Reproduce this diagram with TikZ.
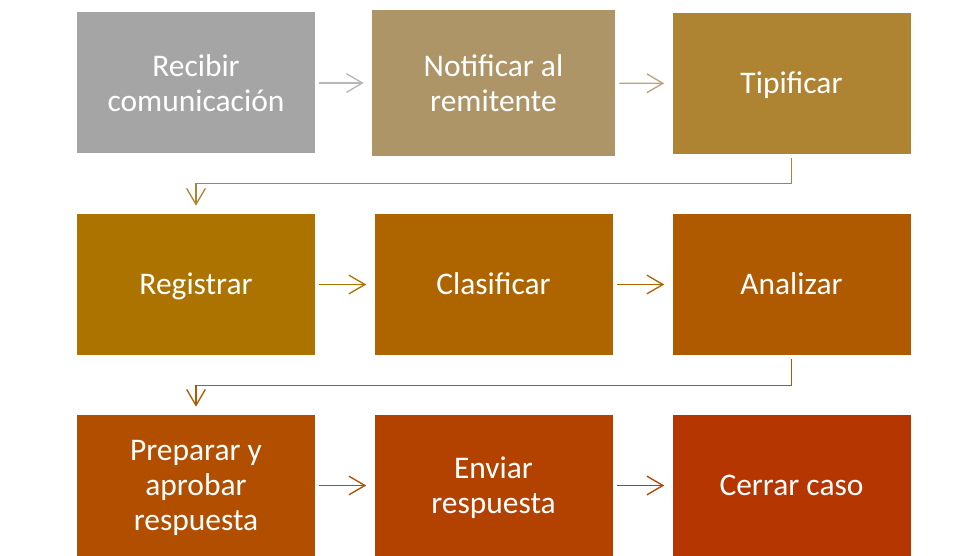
\documentclass[tikz,border=0pt]{standalone}
\usepackage{fontspec}
\setmainfont{Carlito}
\usetikzlibrary{arrows.meta}

\definecolor{boxa}{HTML}{A5A5A5}
\definecolor{boxb}{HTML}{AD9567}
\definecolor{boxc}{HTML}{AE8432}
\definecolor{boxd}{HTML}{AD7300}
\definecolor{boxe}{HTML}{AE6500}
\definecolor{boxf}{HTML}{B05A00}
\definecolor{boxg}{HTML}{B14E00}
\definecolor{boxh}{HTML}{B34200}
\definecolor{boxi}{HTML}{B53600}

\tikzset{
    stepbox/.style={fill=#1, text=white, align=center, inner sep=0pt,
        minimum width=178.5pt, minimum height=105.75pt,
        font=\fontsize{23.6}{26.3}\selectfont},
    oneline/.style={text height=17.7pt, text depth=2.8pt},
    flow/.style={draw=#1, line width=1pt,
        -{Straight Barb[length=12pt,width=14pt]},
        shorten <=3pt, shorten >=6pt},
}

\begin{document}
\begin{tikzpicture}[x=0.75pt,y=-0.75pt]
        \useasboundingbox (0,0) rectangle (968,556);

        % first row
        \node[stepbox=boxa] (recibir) at (196,83){Recibir\\comunicación};
        \node[stepbox=boxb, minimum width=182.25pt, minimum height=109.5pt] (notificar) at (493.5,83){Notificar al\\remitente};
        \node[stepbox=boxc, oneline] (tipificar) at (791.5,83.5){Tipificar};

        % second row
        \node[stepbox=boxd, oneline] (registrar) at (196,284.5){Registrar};
        \node[stepbox=boxe, oneline] (clasificar) at (493.5,284.5){Clasificar};
        \node[stepbox=boxf, oneline] (analizar) at (791.5,284.5){Analizar};

        % third row
        \node[stepbox=boxg, text depth=0pt] (preparar) at (196,485.5){Preparar y\\aprobar\\respuesta};
        \node[stepbox=boxh, text depth=0pt] (enviar) at (493.5,485.5){Enviar\\respuesta};
        \node[stepbox=boxi, oneline] (cerrar) at (791.5,485.5){Cerrar caso};

        \draw[flow=boxa!80!white] (recibir) -- (notificar);
        \draw[flow=boxb!85!white] (notificar) -- (tipificar);
        \draw[flow=boxc] (tipificar.south) -- ++(0,29.5) -| (registrar.north);

        \draw[flow=boxd] (registrar) -- (clasificar);
        \draw[flow=boxe] (clasificar) -- (analizar);
        \draw[flow=boxf] (analizar.south) -- ++(0,30) -| (preparar.north);

        \draw[flow=boxg] (preparar) -- (enviar);
        \draw[flow=boxh] (enviar) -- (cerrar);
    \end{tikzpicture}
\end{document}
